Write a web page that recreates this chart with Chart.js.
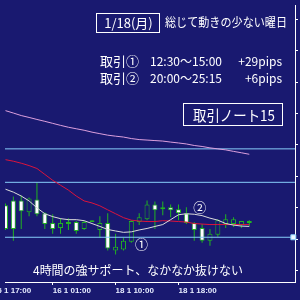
<!DOCTYPE html>
<html>
<head>
<meta charset="utf-8">
<script src="https://cdn.jsdelivr.net/npm/chart.js@4.4.1/dist/chart.umd.min.js"></script>
<style>
  html, body { margin: 0; padding: 0; background: #191970; }
  #wrap { position: relative; width: 300px; height: 300px; }
</style>
</head>
<body>
<div id="wrap"><canvas id="chart"></canvas></div>
<script>
// H1 candles (index 0 = leftmost, partly cut)
const candleIdx = [0, 1, 2, 3, 4, 5, 6, 7, 8, 9, 10, 11, 12, 13, 14, 15,
    16, 17, 18, 19, 20, 21, 22, 23, 24, 25, 26, 27, 28, 29, 30, 31];
const opens = [116.520, 116.559, 116.559, 116.465, 116.566, 116.457, 116.379, 116.340,
    116.371, 116.387, 116.332, 116.387, 116.324, 116.379, 116.160, 116.168,
    116.230, 116.387, 116.410, 116.527, 116.504, 116.504, 116.488, 116.457,
    116.379, 116.340, 116.238, 116.285, 116.371, 116.371, 116.363, 116.379];
const highs = [116.535, 116.590, 116.598, 116.582, 116.699, 116.465, 116.449, 116.418,
    116.418, 116.395, 116.395, 116.402, 116.434, 116.457, 116.293, 116.262,
    116.402, 116.457, 116.559, 116.551, 116.551, 116.527, 116.527, 116.504,
    116.387, 116.371, 116.332, 116.410, 116.449, 116.426, 116.395, 116.402];
const lows = [116.324, 116.238, 116.332, 116.434, 116.434, 116.332, 116.293, 116.293,
    116.324, 116.293, 116.324, 116.387, 116.262, 116.160, 116.129, 116.160,
    116.223, 116.363, 116.402, 116.332, 116.441, 116.426, 116.402, 116.371,
    116.238, 116.223, 116.199, 116.270, 116.340, 116.348, 116.340, 116.355];
const closes = [116.332, 116.332, 116.473, 116.574, 116.449, 116.371, 116.332, 116.379,
    116.387, 116.316, 116.387, 116.402, 116.379, 116.176, 116.191, 116.238,
    116.395, 116.426, 116.527, 116.480, 116.488, 116.480, 116.457, 116.379,
    116.324, 116.238, 116.293, 116.402, 116.410, 116.410, 116.395, 116.395];

// moving averages
const maSlow = [117.273, 117.254, 117.234, 117.219, 117.203, 117.188, 117.172, 117.156,
    117.141, 117.129, 117.117, 117.102, 117.090, 117.078, 117.070, 117.063,
    117.051, 117.043, 117.039, 117.035, 117.031, 117.023, 117.016, 117.008,
    116.996, 116.988, 116.977, 116.969, 116.961, 116.949, 116.938, 116.926];
const maMid = [116.883, 116.871, 116.855, 116.836, 116.813, 116.766, 116.719, 116.680,
    116.641, 116.594, 116.555, 116.539, 116.516, 116.484, 116.453, 116.422,
    116.402, 116.395, 116.391, 116.391, 116.398, 116.395, 116.391, 116.387,
    116.375, 116.371, 116.367, 116.367, 116.367, 116.367, 116.367, 116.367];
const maFast = [116.648, 116.625, 116.594, 116.555, 116.500, 116.453, 116.430, 116.414,
    116.406, 116.406, 116.398, 116.375, 116.352, 116.328, 116.316, 116.305,
    116.309, 116.324, 116.336, 116.352, 116.367, 116.406, 116.445, 116.453,
    116.449, 116.438, 116.418, 116.402, 116.375, 116.363, 116.355, 116.352];

// horizontal lines
const levels = [116.969, 116.703, 116.266];
const markerPrice = 116.266;

// axes
const priceTicks = [118.00, 117.75, 117.50, 117.25, 117.00, 116.75, 116.50, 116.25, 116.00];
const timeTicks = [-1.6, 6, 14, 22];
const timeLabels = ["15 1 17:00", "16 1 01:00", "18 1 10:00", "18 1 18:00"];

// notes
const dayText = "1/18(月)";
const dayComment = "総じて動きの少ない曜日";
const tradeNames = ["取引①", "取引②"];
const tradeTimes = ["12:30〜15:00", "20:00〜25:15"];
const tradeResults = ["+29pips", "+6pips"];
const noteTitle = "取引ノート15";
const bottomComment = "4時間の強サポート、なかなか抜けない";
const circleMarks = [{ text: "①", x: 17.3, y: 116.215 }, { text: "②", x: 24.7, y: 116.504 }];

const BG = "#191970";
const GREEN = "#22b422";
const JP = '"Noto Sans CJK JP", sans-serif';

const notePlugin = {
    id: "notes",
    afterDraw(chart) {
        const ctx = chart.ctx;
        const sx = chart.scales.x;
        const sy = chart.scales.y;
        ctx.save();
        ctx.fillStyle = "#ffffff";
        ctx.strokeStyle = "#ffffff";
        ctx.lineWidth = 1;
        ctx.textBaseline = "middle";

        ctx.strokeRect(96.5, 13.5, 63, 19);
        ctx.font = "13px " + JP;
        ctx.textAlign = "center";
        ctx.fillText(dayText, 128.5, 23, 50);

        ctx.font = "12px " + JP;
        ctx.textAlign = "left";
        ctx.fillText(dayComment, 165, 22.5, 122);

        const rowsY = [61.5, 78];
        rowsY.forEach((ty, i) => {
            ctx.font = "13px " + JP;
            ctx.textAlign = "left";
            ctx.fillText(tradeNames[i], 100, ty, 40);
            ctx.font = "12px " + JP;
            ctx.fillText(tradeTimes[i], 150, ty, 73);
            ctx.textAlign = "right";
            ctx.fillText(tradeResults[i], 282, ty);
        });

        ctx.strokeRect(183.5, 103.5, 99, 22);
        ctx.font = "15px " + JP;
        ctx.textAlign = "center";
        ctx.fillText(noteTitle, 234, 115, 82);

        ctx.font = "12px " + JP;
        ctx.fillText(bottomComment, 138, 270, 210);

        ctx.font = "13px " + JP;
        circleMarks.forEach((m) => {
            ctx.fillText(m.text, sx.getPixelForValue(m.x), sy.getPixelForValue(m.y));
        });
        ctx.restore();
    }
};

function lineSet(values, color) {
    return {
        type: "line",
        data: candleIdx.map((k, i) => ({ x: k, y: values[i] })),
        borderColor: color,
        borderWidth: 1,
        pointRadius: 0,
        tension: 0,
        order: 1
    };
}

const xMin = -0.0625;
const xMax = 36.8125;

const datasets = [
    lineSet(maFast, "#dcdcdc"),
    lineSet(maMid, "#dc143c"),
    lineSet(maSlow, "#dda0dd"),
    ...levels.map((lv) => ({
        type: "line",
        data: [{ x: xMin, y: lv }, { x: xMax, y: lv }],
        borderColor: "#87cefa",
        borderWidth: 1,
        pointRadius: 0,
        order: 1
    })),
    {
        type: "line",
        data: [{ x: 36.6, y: markerPrice }],
        showLine: false,
        pointStyle: "rect",
        pointRadius: 3.5,
        pointBorderWidth: 1,
        pointBorderColor: "#87cefa",
        pointBackgroundColor: "#eef8ff",
        clip: false,
        order: 0
    },
    {
        type: "bar",
        data: candleIdx.map((k, i) => ({ x: k, y: [opens[i], closes[i]] })),
        grouped: false,
        maxBarThickness: 5,
        inflateAmount: 0,
        borderWidth: 1,
        borderSkipped: false,
        borderColor: GREEN,
        backgroundColor: (c) => closes[c.dataIndex] >= opens[c.dataIndex] ? BG : "#ffffff",
        order: 2
    },
    {
        type: "bar",
        data: candleIdx.map((k, i) => ({ x: k, y: [lows[i], highs[i]] })),
        grouped: false,
        maxBarThickness: 1,
        inflateAmount: 0,
        borderWidth: 0,
        backgroundColor: GREEN,
        order: 3
    }
];

new Chart(document.getElementById("chart"), {
    type: "bar",
    data: { datasets },
    options: {
        responsive: true,
        maintainAspectRatio: false,
        animation: false,
        layout: { padding: 0 },
        plugins: { legend: { display: false }, tooltip: { enabled: false } },
        scales: {
            x: {
                type: "linear",
                min: xMin,
                max: xMax,
                offset: false,
                afterBuildTicks: (s) => { s.ticks = timeTicks.map((v) => ({ value: v })); },
                afterFit: (s) => {
                    // the first label starts left of the plot; keep the plot edge at 0
                    s.height = 18;
                    s.paddingLeft = 0;
                    s.paddingRight = 0;
                },
                grid: { drawOnChartArea: false, offset: false, color: "#ffffff", tickLength: 3 },
                border: { color: "#ffffff", width: 1 },
                ticks: {
                    autoSkip: false,
                    maxRotation: 0,
                    align: "start",
                    padding: 1,
                    color: "#e6ecff",
                    font: { family: "Liberation Sans", size: 8, weight: "bold" },
                    callback: (v, i) => timeLabels[i]
                }
            },
            y: {
                type: "linear",
                position: "right",
                min: 115.91015625,
                max: 118.11328125,
                afterBuildTicks: (s) => { s.ticks = priceTicks.map((v) => ({ value: v })); },
                afterFit: (s) => {
                    s.width = 5;
                    s.paddingTop = 0;
                    s.paddingBottom = 0;
                },
                grid: { drawOnChartArea: false, color: "#ffffff", tickLength: 3 },
                border: { color: "#ffffff", width: 1 },
                ticks: { display: false }
            }
        }
    },
    plugins: [notePlugin]
});
</script>
</body>
</html>
